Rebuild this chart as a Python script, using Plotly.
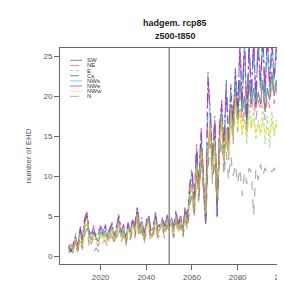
import plotly.graph_objects as go

years = list(range(2006, 2101))

SW = [1.2, 0.6, 0.8, 2.0, 1.0, 3.2, 1.5, 4.0, 5.3, 2.5,
      2.0, 3.0, 2.2, 1.8, 3.0, 2.5, 3.2, 2.0, 2.8, 3.5,
      2.0, 3.0, 4.5, 2.5, 3.2, 1.8, 3.5, 2.8, 4.2, 3.0,
      5.5, 3.0, 4.0, 2.2, 3.8, 4.5, 2.5, 3.0, 4.8, 2.8,
      3.5, 4.2, 3.0, 4.5, 3.8, 4.0, 3.0, 5.0, 3.5, 4.5,
      3.0, 5.5, 4.0, 7.5, 9.0, 6.0, 12.0, 8.0, 14.0, 9.0,
      5.0, 13.0, 17.0, 11.0, 15.0, 7.0, 14.0, 18.0, 12.0, 16.0,
      13.0, 19.0, 15.0, 21.0, 17.0, 22.0, 18.0, 20.0, 16.5, 22.0,
      19.0, 21.0, 18.5, 20.5, 19.0, 22.0, 18.0, 21.0, 19.5, 23.0,
      20.0, 22.0, 19.0, 21.5, 20.0]
NE = [0.8, 1.5, 0.5, 1.8, 0.7, 2.5, 1.2, 3.5, 4.5, 2.0,
      1.5, 2.5, 1.8, 1.2, 2.2, 2.0, 2.8, 1.5, 2.3, 3.0,
      1.8, 2.5, 3.8, 2.0, 3.0, 1.5, 3.0, 2.2, 3.5, 2.5,
      4.5, 2.5, 3.5, 2.0, 3.2, 4.0, 2.0, 2.8, 4.0, 2.5,
      3.0, 3.8, 2.5, 4.0, 3.2, 3.5, 2.5, 4.5, 3.0, 4.0,
      2.5, 4.8, 3.5, 6.5, 8.0, 5.0, 10.5, 7.0, 12.5, 8.0,
      4.5, 12.0, 15.5, 9.5, 13.5, 6.0, 12.5, 16.5, 11.0, 15.0,
      12.0, 17.5, 14.0, 19.5, 15.5, 20.0, 16.5, 19.0, 15.0, 21.0,
      18.0, 20.0, 17.0, 19.5, 18.0, 21.5, 17.0, 20.0, 18.5, 22.0,
      19.0, 21.0, 18.0, 20.5, 19.0]
E = [0.5, 1.0, 0.3, 1.5, 0.5, 2.0, 1.0, 3.0, 4.0, 1.8,
     2.0, 2.2, 1.8, 2.0, 2.5, 1.5, 2.8, 2.0, 2.5, 3.2,
     1.8, 2.8, 4.0, 2.2, 3.0, 1.8, 3.2, 2.5, 3.8, 2.8,
     5.0, 2.8, 3.8, 2.0, 3.5, 4.2, 2.2, 3.0, 4.5, 2.8,
     3.2, 4.0, 2.8, 4.2, 3.5, 3.8, 2.8, 4.8, 3.2, 4.2,
     2.8, 5.0, 3.8, 7.0, 8.5, 5.5, 11.0, 7.5, 13.0, 8.5,
     5.0, 12.5, 16.0, 10.0, 14.0, 6.5, 13.0, 17.0, 11.5, 15.5,
     12.5, 18.0, 14.5, 20.0, 16.0, 19.0, 15.0, 18.0, 14.0, 19.5,
     16.0, 18.5, 14.5, 17.0, 15.5, 19.0, 14.0, 17.5, 13.5, 18.0,
     15.0, 17.0, 14.0, 16.5, 15.0]
Cs = [1.0, 0.5, 1.2, 2.5, 0.8, 3.5, 1.8, 4.5, 5.0, 2.8,
      2.5, 3.5, 2.0, 2.8, 3.5, 2.8, 3.8, 2.5, 3.2, 4.0,
      2.5, 3.5, 5.0, 2.8, 3.8, 2.2, 4.0, 3.0, 4.5, 3.5,
      6.0, 3.5, 4.5, 2.5, 4.2, 5.0, 3.0, 3.5, 5.2, 3.2,
      4.0, 4.5, 3.5, 5.0, 4.2, 4.5, 3.5, 5.5, 3.8, 5.0,
      3.2, 6.0, 4.5, 8.5, 10.5, 6.5, 13.5, 8.5, 15.5, 9.5,
      4.0, 23.0, 18.0, 12.0, 17.0, 5.0, 15.5, 19.0, 13.0, 22.0,
      14.0, 21.0, 16.0, 23.5, 18.0, 26.5, 19.0, 27.0, 17.0, 26.0,
      20.0, 27.0, 19.0, 26.5, 21.0, 28.0, 20.0, 27.5, 21.0, 26.0,
      22.0, 27.0, 21.0, 25.5, 22.0]
NWs = [1.5, 0.8, 1.0, 2.2, 1.2, 3.0, 1.5, 4.2, 4.8, 2.5,
       2.2, 3.2, 2.5, 2.5, 3.2, 2.5, 3.5, 2.2, 3.0, 3.8,
       2.2, 3.2, 4.8, 2.5, 3.5, 2.0, 3.8, 3.0, 4.5, 3.2,
       5.8, 3.2, 4.2, 2.5, 4.0, 4.8, 2.8, 3.2, 5.0, 3.0,
       3.8, 4.5, 3.2, 4.8, 4.0, 4.2, 3.2, 5.2, 3.8, 4.8,
       3.0, 5.8, 4.2, 8.0, 10.0, 6.2, 13.0, 8.0, 15.0, 9.0,
       4.5, 19.0, 17.5, 11.5, 16.5, 5.5, 15.0, 18.5, 12.5, 21.5,
       13.5, 20.5, 15.5, 23.0, 17.5, 25.0, 18.5, 26.5, 16.5, 27.0,
       19.0, 26.0, 18.5, 27.0, 20.0, 27.5, 19.5, 26.0, 20.5, 27.0,
       21.0, 26.5, 20.0, 26.0, 21.5]
NWe = [1.2, 0.7, 1.5, 2.8, 1.0, 3.8, 2.0, 4.8, 5.5, 3.0,
       2.8, 3.8, 2.5, 3.2, 3.8, 3.0, 4.0, 2.8, 3.5, 4.2,
       2.8, 3.8, 5.2, 3.0, 4.0, 2.5, 4.2, 3.2, 4.8, 3.8,
       6.2, 3.8, 4.8, 2.8, 4.5, 5.2, 3.2, 3.8, 5.5, 3.5,
       4.2, 4.8, 3.8, 5.2, 4.5, 4.8, 3.8, 5.8, 4.0, 5.2,
       3.5, 6.2, 4.8, 9.0, 11.0, 7.0, 14.0, 9.0, 16.0, 10.0,
       4.2, 22.0, 18.5, 12.5, 17.5, 4.8, 16.0, 19.5, 13.5, 21.0,
       14.5, 21.5, 16.5, 23.0, 18.5, 26.0, 19.5, 27.5, 17.5, 26.5,
       20.5, 27.0, 19.5, 27.5, 21.5, 27.0, 20.5, 28.0, 21.5, 27.0,
       22.5, 26.5, 21.5, 27.0, 22.0]
NWw = [0.8, 1.2, 0.6, 2.0, 0.9, 2.8, 1.3, 3.8, 4.8, 2.2,
       1.8, 2.8, 2.0, 2.2, 2.8, 2.2, 3.0, 1.8, 2.7, 3.4,
       2.0, 3.0, 4.2, 2.3, 3.2, 1.8, 3.4, 2.6, 4.0, 3.0,
       5.2, 3.0, 4.0, 2.2, 3.6, 4.4, 2.4, 3.0, 4.6, 2.8,
       3.4, 4.2, 3.0, 4.4, 3.6, 4.0, 3.0, 5.0, 3.4, 4.4,
       2.8, 5.2, 4.0, 7.2, 8.8, 5.8, 11.5, 7.8, 13.5, 8.8,
       5.2, 13.0, 16.5, 10.5, 14.5, 7.0, 13.5, 17.5, 12.0, 16.0,
       13.0, 18.5, 15.0, 20.0, 16.0, 18.0, 15.5, 17.0, 15.0, 18.0,
       16.0, 17.0, 15.5, 16.5, 15.0, 17.0, 15.5, 16.0, 15.0, 17.0,
       15.5, 16.5, 15.0, 16.0, 15.5]
N = [0.4, 0.8, 0.3, 1.2, 0.5, 1.8, 0.8, 2.5, 3.5, 1.2,
     0.8, 0.5, 1.0, 0.6, 1.2, 1.5, 2.0, 1.2, 2.0, 2.5,
     1.5, 2.2, 3.2, 1.8, 2.5, 1.2, 2.8, 2.0, 3.2, 2.2,
     4.0, 2.2, 3.2, 1.5, 3.0, 3.5, 1.8, 2.5, 3.8, 2.2,
     2.8, 3.5, 2.2, 3.8, 3.0, 3.2, 2.2, 4.2, 2.8, 3.8,
     2.2, 4.5, 3.2, 6.2, 7.5, 4.8, 10.0, 6.5, 12.0, 7.5,
     3.8, 11.0, 14.0, 9.0, 12.0, 5.5, 11.5, 14.5, 10.0, 13.0,
     9.5, 12.5, 10.0, 11.5, 9.0, 11.0, 7.5, 10.5, 9.0, 11.0,
     10.5, 5.0, 11.0, 9.5, 11.5, 10.0, 11.0, 10.5, 11.0, 10.5,
     11.0, 10.0, 10.5, 11.0, 10.5]

names = ["SW", "NE", "E", "Cs", "NWs", "NWe", "NWw", "N"]
series = [SW, NE, E, Cs, NWs, NWe, NWw, N]
colors = ["rgba(40,40,40,0.55)", "rgba(225,70,100,0.6)", "rgba(110,205,90,0.6)",
          "rgba(40,60,150,0.65)", "rgba(40,195,210,0.65)", "rgba(185,20,185,0.65)",
          "rgba(240,215,40,0.6)", "rgba(120,120,120,0.6)"]
dashes = ["solid", "dash", "dot", "dashdot", "longdash", "longdashdot", "solid", "dash"]

xticks = [2020, 2040, 2060, 2080, 2100]
yticks = [0, 5, 10, 15, 20, 25]
split_year = 2050

fig = go.Figure()
for nm, ys, c, d in zip(names, series, colors, dashes):
    fig.add_trace(go.Scatter(x=years, y=ys, mode="lines", name=nm,
                             line=dict(color=c, width=1.2, dash=d),
                             showlegend=False))

fig.add_shape(type="line", xref="x", yref="paper", x0=split_year, x1=split_year,
              y0=0, y1=1, line=dict(color="#555", width=1))

# plot area in pixels: x 52..285, y 40..256
pw, ph = 233, 216
def px2paper(x, y):
    return (x - 52) / pw, (256 - y) / ph

# manual legend
lx0, lx1, tx = 0.045, 0.098, 0.11
ly0, lstep = 0.943, 0.0238
for i, (nm, c, d) in enumerate(zip(names, colors, dashes)):
    yy = ly0 - i * lstep
    fig.add_shape(type="line", xref="paper", yref="paper", x0=lx0, x1=lx1, y0=yy, y1=yy,
                  line=dict(color=c, width=1, dash=d))
    fig.add_annotation(xref="paper", yref="paper", x=tx, y=yy, text=nm, showarrow=False,
                       xanchor="left", yanchor="middle", font=dict(size=6, color="#333"))

for txt, yy in [("<b>hadgem. rcp85</b>", 15), ("<b>z500-t850</b>", 28)]:
    px, py = px2paper(172, yy)
    fig.add_annotation(xref="paper", yref="paper", x=px, y=py, text=txt, showarrow=False,
                       xanchor="center", yanchor="middle", font=dict(size=9, color="#222"))

fig.update_layout(
    width=285, height=291,
    margin=dict(l=52, r=0, t=40, b=35),
    paper_bgcolor="white", plot_bgcolor="white",
    font=dict(family="Liberation Sans, Arial, sans-serif", color="#555"),
    showlegend=False,
)

fig.update_xaxes(range=[2002.2, 2100.3], tickvals=xticks, ticks="outside", ticklen=5,
                 tickcolor="#666", showline=True, linecolor="#666", linewidth=1, mirror=True,
                 showgrid=False, zeroline=False, tickfont=dict(size=8, color="#555"),
                 ticklabeloverflow="allow",
                 title=dict(text="year", font=dict(size=8, color="#555"), standoff=8))
fig.update_yaxes(range=[-1, 26], tickvals=yticks, ticks="outside", ticklen=5,
                 tickcolor="#666", showline=True, linecolor="#666", linewidth=1,
                 showgrid=False, zeroline=False, tickfont=dict(size=8, color="#555"),
                 title=dict(text="number of EHD", font=dict(size=8, color="#555"), standoff=10))

fig.write_html("out.html")
